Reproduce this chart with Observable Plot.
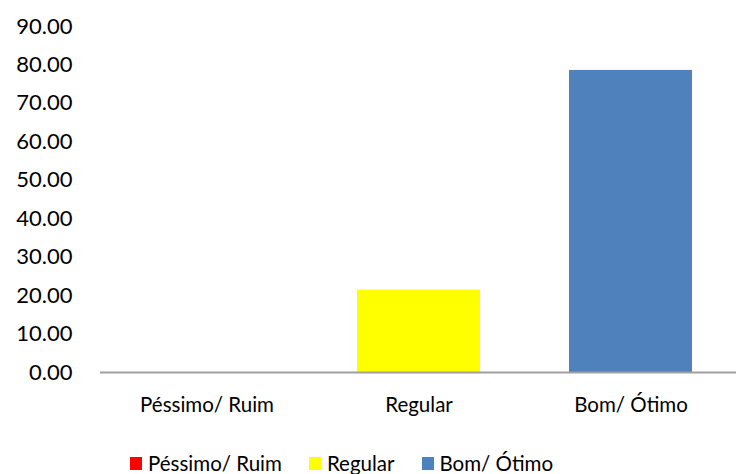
<!DOCTYPE html>
<html>
<head>
<meta charset="utf-8">
<script src="https://cdn.jsdelivr.net/npm/d3@7"></script>
<script src="https://cdn.jsdelivr.net/npm/@observablehq/plot@0.6"></script>
<style>
  html, body { margin: 0; padding: 0; background: #fff; }
  #wrap { position: relative; width: 736px; height: 474px; font-family: Lato, "Open Sans", sans-serif; }
  #chart svg { display: block; }
  #legend { position: absolute; left: 130px; top: 452px; height: 22px; display: flex; align-items: center; font-size: 20.5px; line-height: 22px; color: #000; white-space: nowrap; }
  .item { display: flex; align-items: center; margin-right: 27px; }
  .sw { width: 12px; height: 13px; margin-right: 6px; }
</style>
</head>
<body>
<div id="wrap"><div id="chart"></div><div id="legend"></div></div>
<script>
const categories = ["Péssimo/ Ruim", "Regular", "Bom/ Ótimo"];
const values = [0, 21.43, 78.57];
const colors = ["#ff0000", "#ffff00", "#4f81bd"];
const yTicks = [0, 10, 20, 30, 40, 50, 60, 70, 80, 90];

const data = categories.map((c, i) => ({category: c, value: values[i]}));

const chart = Plot.plot({
  width: 736,
  height: 430,
  marginLeft: 100,
  marginRight: 0,
  marginTop: 26,
  marginBottom: 58,
  style: {fontFamily: "Lato, 'Open Sans', sans-serif", fontSize: "20.5px", color: "#000", background: "#fff"},
  x: {domain: categories, paddingInner: 0.42, paddingOuter: 0.21, label: null},
  y: {domain: [0, 90], ticks: yTicks, label: null},
  color: {domain: categories, range: colors},
  marks: [
    Plot.barY(data, {x: "category", y: "value", fill: "category"}),
    Plot.ruleY([0], {stroke: "#a0a0a0", strokeWidth: 2}),
    Plot.axisY({ticks: yTicks, tickSize: 0, tickPadding: 28, tickFormat: d3.format(".2f"), label: null, fontSize: 22}),
    Plot.axisX({tickSize: 0, tickPadding: 25, label: null})
  ]
});
document.getElementById("chart").appendChild(chart);

const legend = document.getElementById("legend");
categories.forEach((c, i) => {
  const item = document.createElement("div");
  item.className = "item";
  const sw = document.createElement("span");
  sw.className = "sw";
  sw.style.background = colors[i];
  const t = document.createElement("span");
  t.textContent = c;
  item.appendChild(sw);
  item.appendChild(t);
  legend.appendChild(item);
});
</script>
</body>
</html>
